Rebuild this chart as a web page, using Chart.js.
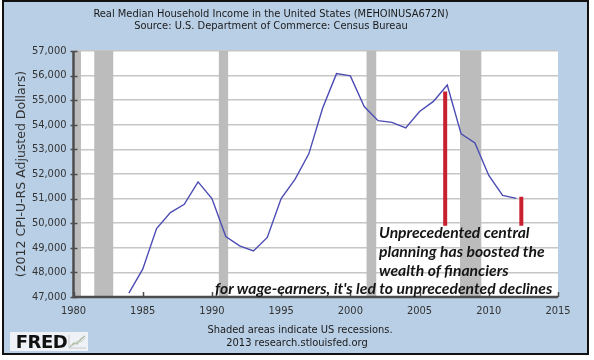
<!DOCTYPE html>
<html>
<head>
<meta charset="utf-8">
<script src="https://cdn.jsdelivr.net/npm/chart.js@4"></script>
<style>
    body { margin: 0; background: #fff; }
    #frame {
        position: absolute; left: 2px; top: 0; width: 587px; height: 355px;
        box-sizing: border-box; border: 2px solid #111; background: #b9cfe6;
    }
    #wrap { position: absolute; left: 0; top: 0; width: 594px; height: 360px; }
    .txt { position: absolute; white-space: nowrap; color: #1a1a1a; }
    .head { font-family: "DejaVu Sans Condensed", "DejaVu Sans", sans-serif; font-size: 11px; text-align: center; left: 0; width: 542px; }
    .foot { font-family: "DejaVu Sans Condensed", "DejaVu Sans", sans-serif; font-size: 11px; text-align: center; left: 0; width: 594px; }
    .note { font-family: Lato, "Open Sans", sans-serif; font-weight: bold; font-style: italic; font-size: 15.7px; color: #151515; }
    #logo {
        position: absolute; left: 10px; top: 332px; width: 78px; height: 19px;
        background: #eef2f6; font-family: "DejaVu Sans", sans-serif; font-weight: bold;
        font-size: 18px; line-height: 19px; letter-spacing: -0.5px; color: #111;
    }
    #logo svg { position: absolute; left: 58px; top: 2px; }
</style>
</head>
<body>
<div id="frame"></div>
<div id="wrap"><canvas id="fredChart" width="594" height="360"></canvas></div>

<div class="txt head" style="top:7px">Real Median Household Income in the United States (MEHOINUSA672N)</div>
<div class="txt head" style="top:19px">Source: U.S. Department of Commerce: Census Bureau</div>

<div class="txt note" style="left:379px; top:223px">Unprecedented central</div>
<div class="txt note" style="left:379px; top:242px">planning has boosted the</div>
<div class="txt note" style="left:379px; top:261px">wealth of financiers</div>
<div class="txt note" style="left:215px; top:279px">for wage-earners, it's led to unprecedented declines</div>

<div class="txt foot" style="top:323px; left:3px">Shaded areas indicate US recessions.</div>
<div class="txt foot" style="top:336px; left:0px">2013 research.stlouisfed.org</div>

<div id="logo">&nbsp;FRED<svg width="19" height="15" viewBox="0 0 19 15">
    <path d="M1 14 L18 14 M1 14 L1 1" stroke="#c9c9c9" stroke-width="1" fill="none"/>
    <path d="M2 13 L6 9 L9 10 L13 5 L17 2" stroke="#a9b9a0" stroke-width="1.3" fill="none"/>
    <path d="M2 12 L6 11 L9 7 L13 8 L17 4" stroke="#c7cfc0" stroke-width="1" fill="none"/>
</svg></div>

<script>
// annual values, 2012 CPI-U-RS dollars
const years = [1984, 1985, 1986, 1987, 1988, 1989, 1990, 1991, 1992, 1993,
    1994, 1995, 1996, 1997, 1998, 1999, 2000, 2001, 2002, 2003,
    2004, 2005, 2006, 2007, 2008, 2009, 2010, 2011, 2012];
const income = [47160, 48130, 49780, 50430, 50770, 51680, 51000, 49460, 49080, 48870,
    49420, 51000, 51780, 52820, 54680, 56080, 55990, 54740, 54170, 54100,
    53870, 54540, 54950, 55620, 53630, 53260, 51940, 51130, 51010];

// recession periods (fractional years)
const recessionStarts = [1980.0, 1981.5, 1990.5, 2001.17, 2007.92];
const recessionEnds = [1980.54, 1982.87, 1991.17, 2001.87, 2009.46];

// red marker bars added to the chart
const markerYears = [2006.85, 2012.35];
const markerTops = [55350, 51080];
const markerBottoms = [49900, 49900];

const xTickValues = [1980, 1985, 1990, 1995, 2000, 2005, 2010, 2015];
const yTickValues = [47000, 48000, 49000, 50000, 51000, 52000, 53000, 54000, 55000, 56000, 57000];

const fredPlugin = {
    id: 'fredPlugin',
    beforeDraw(chart) {
        const { ctx, chartArea: a } = chart;
        ctx.save();
        ctx.fillStyle = '#ffffff';
        ctx.fillRect(a.left, a.top, a.right - a.left, a.bottom - a.top);
        ctx.restore();
    },
    beforeDatasetsDraw(chart) {
        const { ctx, chartArea: a, scales } = chart;
        ctx.save();
        ctx.fillStyle = '#bcbcbc';
        for (let i = 0; i < recessionStarts.length; i++) {
            const x1 = scales.x.getPixelForValue(recessionStarts[i]);
            const x2 = scales.x.getPixelForValue(recessionEnds[i]);
            ctx.fillRect(x1, a.top, x2 - x1, a.bottom - a.top);
        }
        ctx.restore();
    },
    afterDatasetsDraw(chart) {
        const { ctx, chartArea: a, scales } = chart;
        ctx.save();
        ctx.strokeStyle = '#4d4d4d';
        ctx.lineWidth = 2.5;
        ctx.beginPath();
        ctx.moveTo(a.left, a.top);
        ctx.lineTo(a.left, a.bottom);
        ctx.lineTo(a.right, a.bottom);
        ctx.stroke();

        ctx.lineWidth = 1.5;
        ctx.beginPath();
        yTickValues.forEach(v => {
            const y = Math.round(scales.y.getPixelForValue(v)) + 0.5;
            ctx.moveTo(a.left - 3, y);
            ctx.lineTo(a.left + 4, y);
        });
        xTickValues.forEach(v => {
            const x = Math.round(scales.x.getPixelForValue(v)) + 0.5;
            ctx.moveTo(x, a.bottom);
            ctx.lineTo(x, a.bottom - 5);
        });
        ctx.stroke();
        ctx.restore();
    }
};

function initChart() {
    const ctx = document.getElementById('fredChart').getContext('2d');

    const markerSets = markerYears.map((yr, i) => ({
        data: [{ x: yr, y: markerTops[i] }, { x: yr, y: markerBottoms[i] }],
        borderColor: '#c8202e',
        borderWidth: 4,
        pointRadius: 0,
        borderCapStyle: 'butt'
    }));

    new Chart(ctx, {
        type: 'line',
        data: {
            datasets: [{
                label: 'MEHOINUSA672N',
                data: years.map((yr, i) => ({ x: yr, y: income[i] })),
                borderColor: '#4c4cb4',
                borderWidth: 1.4,
                pointRadius: 0,
                tension: 0
            }, ...markerSets]
        },
        options: {
            responsive: false,
            animation: false,
            devicePixelRatio: 1,
            layout: { padding: { top: 51, right: 36, bottom: 0, left: 0 } },
            plugins: {
                legend: { display: false },
                tooltip: { enabled: false }
            },
            scales: {
                x: {
                    type: 'linear',
                    min: 1980,
                    max: 2015,
                    afterFit: s => { s.height = 63; },
                    afterBuildTicks: s => { s.ticks = xTickValues.map(v => ({ value: v })); },
                    grid: { display: false, drawTicks: false },
                    border: { display: false },
                    ticks: {
                        padding: 8,
                        color: '#333',
                        autoSkip: false,
                        maxRotation: 0,
                        font: { family: '"DejaVu Sans Condensed", "DejaVu Sans"', size: 11 },
                        callback: v => String(v)
                    }
                },
                y: {
                    min: 47000,
                    max: 57000,
                    afterFit: s => { s.width = 73.5; },
                    afterBuildTicks: s => { s.ticks = yTickValues.map(v => ({ value: v })); },
                    grid: { color: '#c6c6c6', lineWidth: 1.5, drawTicks: false },
                    border: { display: false },
                    ticks: {
                        padding: 7,
                        color: '#333',
                        font: { family: '"DejaVu Sans Condensed", "DejaVu Sans"', size: 11 },
                        callback: v => v.toLocaleString('en-US')
                    },
                    title: {
                        display: true,
                        text: '(2012 CPI-U-RS Adjusted Dollars)',
                        color: '#333',
                        padding: { top: 14.5 },
                        font: { family: '"DejaVu Sans"', size: 12.5 }
                    }
                }
            }
        },
        plugins: [fredPlugin]
    });
}

window.onload = initChart;
</script>
</body>
</html>
